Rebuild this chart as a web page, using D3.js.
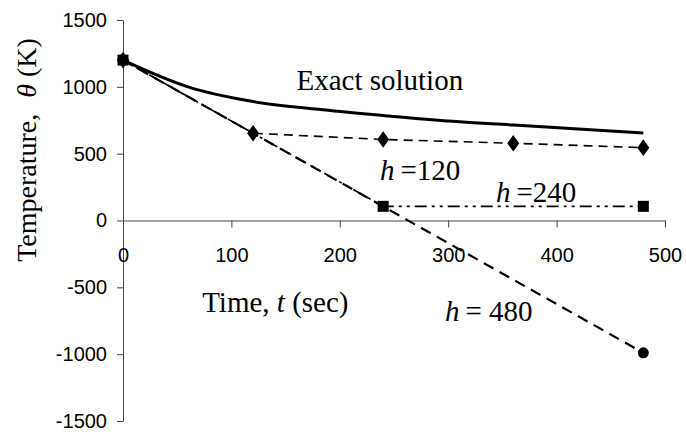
<!DOCTYPE html>
<html>
<head>
<meta charset="utf-8">
<script src="https://cdn.jsdelivr.net/npm/d3@7"></script>
<style>
  body { margin: 0; background: #fff; }
  svg { display: block; }
</style>
</head>
<body>
<div id="chart"></div>
<script>
// values
const xTicks = [0, 100, 200, 300, 400, 500];
const yTicks = [-1500, -1000, -500, 0, 500, 1000, 1500];

const tExact = [0, 60, 120, 180, 240, 300, 360, 420, 480];
const thetaExact = [1200, 1000, 890, 832, 786, 744, 714, 684, 655];

const t120 = [0, 120, 240, 360, 480];
const theta120 = [1200, 653, 606, 578, 545];

const t240 = [0, 240, 480];
const theta240 = [1200, 106, 106];

const t480 = [0, 480];
const theta480 = [1200, -990];

function renderChart(containerId) {
    const container = d3.select(`#${containerId}`);
    container.selectAll('*').remove();

    const margin = { top: 20, right: 21, bottom: 13, left: 123 };
    const width = 686 - margin.left - margin.right;
    const height = 434 - margin.top - margin.bottom;

    const svg = container
        .append('svg')
        .attr('width', 686)
        .attr('height', 434)
        .append('g')
        .attr('transform', `translate(${margin.left},${margin.top})`);

    const x = d3.scaleLinear().domain([0, 500]).range([0, width]);
    const y = d3.scaleLinear().domain([-1500, 1500]).range([height, 0]);

    const sans = 'Arial, "Liberation Sans", sans-serif';
    const serif = '"Times New Roman", "Liberation Serif", serif';
    const plain = d => String(d);

    // axes
    const yAxis = svg.append('g')
        .call(d3.axisLeft(y).tickValues(yTicks).tickFormat(plain)
            .tickSize(6).tickSizeOuter(0).tickPadding(10));
    const xAxis = svg.append('g')
        .attr('transform', `translate(0,${y(0)})`)
        .call(d3.axisBottom(x).tickValues(xTicks).tickFormat(plain)
            .tickSize(7).tickSizeOuter(0).tickPadding(20));

    [xAxis, yAxis].forEach(a => {
        a.selectAll('path, line').attr('stroke', '#444').attr('stroke-width', 1);
        a.selectAll('text')
            .style('font-family', sans)
            .style('font-size', '20px')
            .attr('fill', '#000');
    });

    const line = d3.line().x(d => x(d[0])).y(d => y(d[1]));
    const zip = (ts, vs) => ts.map((t, i) => [t, vs[i]]);

    // exact solution
    svg.append('path')
        .datum(zip(tExact, thetaExact))
        .attr('fill', 'none')
        .attr('stroke', '#000')
        .attr('stroke-width', 3)
        .attr('d', line.curve(d3.curveMonotoneX));
    line.curve(d3.curveLinear);

    // h = 120
    svg.append('path')
        .datum(zip(t120, theta120))
        .attr('fill', 'none')
        .attr('stroke', '#000')
        .attr('stroke-width', 1.6)
        .attr('stroke-dasharray', '9,6')
        .attr('d', line);

    // h = 480
    svg.append('path')
        .datum(zip(t480, theta480))
        .attr('fill', 'none')
        .attr('stroke', '#000')
        .attr('stroke-width', 2.2)
        .attr('stroke-dasharray', '11,7')
        .attr('d', line);

    // h = 240
    svg.append('path')
        .datum(zip(t240, theta240))
        .attr('fill', 'none')
        .attr('stroke', '#000')
        .attr('stroke-width', 1.6)
        .attr('stroke-dasharray', '12,5,3,5,3,5')
        .attr('d', line);

    // markers
    svg.selectAll('.m120')
        .data(zip(t120, theta120))
        .enter()
        .append('path')
        .attr('class', 'm120')
        .attr('d', d3.symbol(d3.symbolDiamond, 80))
        .attr('transform', d => `translate(${x(d[0])},${y(d[1])}) scale(1.25,1)`)
        .attr('fill', '#000');

    svg.selectAll('.m480')
        .data(zip(t480, theta480))
        .enter()
        .append('circle')
        .attr('class', 'm480')
        .attr('cx', d => x(d[0]))
        .attr('cy', d => y(d[1]))
        .attr('r', 5.5)
        .attr('fill', '#000');

    svg.selectAll('.m240')
        .data(zip(t240, theta240))
        .enter()
        .append('rect')
        .attr('class', 'm240')
        .attr('x', d => x(d[0]) - 5.5)
        .attr('y', d => y(d[1]) - 5.5)
        .attr('width', 11)
        .attr('height', 11)
        .attr('fill', '#000');

    // annotations
    const note = (tx, ty, parts) => {
        const t = svg.append('text')
            .attr('x', x(tx))
            .attr('y', y(ty))
            .style('font-family', serif)
            .style('font-size', '29px')
            .attr('fill', '#000');
        parts.forEach(p => {
            t.append('tspan')
                .style('font-style', p.i ? 'italic' : 'normal')
                .attr('dx', p.dx || 0)
                .text(p.s);
        });
    };
    note(160, 975, [{ s: 'Exact solution' }]);
    note(237, 300, [{ s: 'h', i: true }, { s: '=120', dx: 6 }]);
    note(344, 135, [{ s: 'h', i: true }, { s: '=240', dx: 6 }]);
    note(297, -750, [{ s: 'h', i: true }, { s: '= 480', dx: 6 }]);
    note(73, -682, [{ s: 'Time, ' }, { s: 't', i: true }, { s: ' (sec)' }]);

    // y title
    const yt = svg.append('text')
        .attr('transform', `translate(${36 - margin.left},${150 - margin.top}) rotate(-90)`)
        .attr('text-anchor', 'middle')
        .style('font-family', serif)
        .style('font-size', '28px')
        .attr('fill', '#000');
    yt.append('tspan').text('Temperature,');
    yt.append('tspan').attr('dx', 16).style('font-style', 'italic').text('θ');
    yt.append('tspan').text(' (K)');
}

renderChart('chart');
</script>
</body>
</html>
